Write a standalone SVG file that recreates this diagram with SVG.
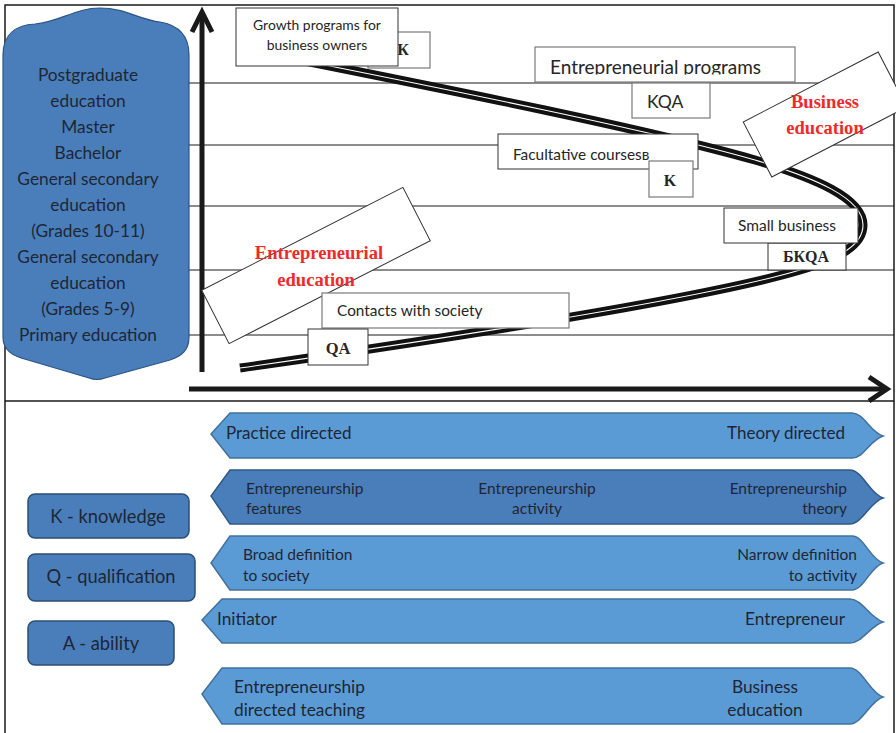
<svg xmlns="http://www.w3.org/2000/svg" width="896" height="733" viewBox="0 0 896 733">
  <style>
    .sans { font-family: Lato, "Open Sans", "Liberation Sans", sans-serif; fill: #262626; }
    .serifb { font-family: "Liberation Serif", "Times New Roman", serif; font-weight: bold; fill: #262626; }
    .red { font-family: "Liberation Serif", "Times New Roman", serif; font-weight: bold; fill: #ee2b2b; font-size: 18.6px; }
    .grid { stroke: #1a1a1a; stroke-width: 1; }
    .box { fill: #ffffff; stroke: #333333; stroke-width: 1; }
    .boxg { fill: #ffffff; stroke: #7a7a7a; stroke-width: 1.2; }
    .axis { stroke: #1a1a1a; stroke-width: 5; fill: none; }
    .bandL { fill: #5b9bd5; stroke: #41719c; stroke-width: 1.5; }
    .bandD { fill: #4a7ebb; stroke: #2f5a86; stroke-width: 1.5; }
    .legend { fill: #4a7ebb; stroke: #2c4f74; stroke-width: 1.5; }
    .lvl { font-family: Lato, "Open Sans", "Liberation Sans", sans-serif; fill: #1e2633; font-size: 17.3px; text-anchor: middle; }
    .bt { font-family: Lato, "Open Sans", "Liberation Sans", sans-serif; fill: #1e2633; }
  </style>
  <defs>
    <clipPath id="progClip">
      <rect x="535" y="47" width="260" height="27.5"/>
    </clipPath>
  </defs>

  <!-- frame -->
  <g id="frame" fill="none" stroke="#1a1a1a" stroke-width="1.5">
    <path d="M5 740 V5 H894 V740"/>
    <line x1="5" y1="401" x2="894" y2="401"/>
  </g>

  <!-- horizontal level lines -->
  <g id="levels" class="grid">
    <line x1="188" y1="83" x2="894" y2="83"/>
    <line x1="188" y1="145" x2="894" y2="145"/>
    <line x1="188" y1="206" x2="894" y2="206"/>
    <line x1="188" y1="270" x2="894" y2="270"/>
    <line x1="188" y1="335" x2="894" y2="335"/>
  </g>

  <!-- education levels -->
  <g id="education-levels">
    <path d="M3 55 C3 35 15 25 35 24 C60 22 75 8 100 8 C125 8 140 20 160 22 C178 25 189 35 189 55 V337 C189 350 182 356 170 360 L105 378 Q97 381 89 378 L28 360 C12 356 3 350 3 337 Z" fill="#4a7ebb" stroke="#2c5582" stroke-width="1.2"/>
    <text class="lvl" x="88" y="81">Postgraduate</text>
    <text class="lvl" x="88" y="107">education</text>
    <text class="lvl" x="88" y="133">Master</text>
    <text class="lvl" x="88" y="159">Bachelor</text>
    <text class="lvl" x="88" y="185">General secondary</text>
    <text class="lvl" x="88" y="211">education</text>
    <text class="lvl" x="88" y="237">(Grades 10-11)</text>
    <text class="lvl" x="88" y="263">General secondary</text>
    <text class="lvl" x="88" y="289">education</text>
    <text class="lvl" x="88" y="315">(Grades 5-9)</text>
    <text class="lvl" x="88" y="341">Primary education</text>
  </g>

  <!-- axes -->
  <g id="axes">
    <line class="axis" x1="202" y1="372" x2="202" y2="13"/>
    <polyline class="axis" points="192,32 202,12 212,32"/>
    <line class="axis" x1="189" y1="389" x2="885" y2="389"/>
    <polyline class="axis" points="869,377 887,389 869,401"/>
  </g>

  <!-- development path -->
  <g id="connectors">
    <path d="M240 368 C400 345 700 300 800 270 C840 258 863 245 863 225 C863 198 815 178 755 160 C650 130 450 90 290 58" fill="none" stroke="#111111" stroke-width="9"/>
    <path d="M240 368 C400 345 700 300 800 270 C840 258 863 245 863 225 C863 198 815 178 755 160 C650 130 450 90 290 58" fill="none" stroke="#ffffff" stroke-width="1.1"/>
  </g>

  <!-- stages on the path -->
  <g id="k-top">
    <rect class="boxg" x="368" y="32" width="62" height="36"/>
    <text class="serifb" x="403" y="55" font-size="16" text-anchor="middle">К</text>
  </g>
  <g id="growth-programs">
    <rect class="box" x="236" y="8" width="162" height="58"/>
    <text class="sans" x="317" y="30" font-size="13.9" text-anchor="middle">Growth programs for</text>
    <text class="sans" x="317" y="50" font-size="13.9" text-anchor="middle">business owners</text>
  </g>
  <g id="entrepreneurial-programs">
    <rect class="boxg" x="535" y="47" width="260" height="35"/>
    <text class="sans" x="550" y="74" font-size="19" clip-path="url(#progClip)">Entrepreneurial programs</text>
  </g>
  <g id="kqa">
    <rect class="boxg" x="632" y="83" width="78" height="35"/>
    <text class="sans" x="647" y="108" font-size="17.5">KQA</text>
  </g>
  <g id="facultative-courses">
    <rect class="box" x="498" y="134" width="200" height="35"/>
    <text class="sans" x="513" y="160" font-size="15.4">Facultative coursesв</text>
  </g>
  <g id="k-mid">
    <rect class="boxg" x="649" y="161" width="44" height="36"/>
    <text class="serifb" x="670" y="186" font-size="16" text-anchor="middle">K</text>
  </g>
  <g id="business-education">
    <rect class="box" x="749" y="83.5" width="152" height="62" transform="rotate(-27.4 825 114.5)"/>
    <text class="red" x="825" y="108" text-anchor="middle">Business</text>
    <text class="red" x="825" y="134" text-anchor="middle">education</text>
  </g>
  <g id="entrepreneurial-education">
    <rect class="box" x="203" y="235.5" width="226" height="60" transform="rotate(-27.1 316 265.5)"/>
    <text class="red" x="319" y="259" text-anchor="middle">Entrepreneurial</text>
    <text class="red" x="316" y="286" text-anchor="middle">education</text>
  </g>
  <g id="contacts-society">
    <rect class="boxg" x="322" y="293" width="247" height="35"/>
    <text class="sans" x="337" y="316" font-size="15.4">Contacts with society</text>
  </g>
  <g id="qa">
    <rect class="box" x="308" y="329" width="60" height="36"/>
    <text class="serifb" x="338" y="354" font-size="16.5" text-anchor="middle">QA</text>
  </g>
  <g id="bkqa">
    <rect class="box" x="768" y="243" width="78" height="27"/>
    <text class="serifb" x="806" y="262" font-size="16" text-anchor="middle">БКQA</text>
  </g>
  <g id="small-business">
    <rect class="box" x="724" y="208" width="134" height="35"/>
    <text class="sans" x="738" y="231" font-size="15.5">Small business</text>
  </g>

  <!-- spectrum bands -->
  <g id="band-orientation">
    <path class="bandL" d="M230 413 H852 C864 413 870 432 883 436 C870 440 864 458 852 458 H230 L211 434 Z"/>
    <text class="bt" x="226" y="439" font-size="17">Practice directed</text>
    <text class="bt" x="845" y="439" font-size="17" text-anchor="end">Theory directed</text>
  </g>
  <g id="band-content">
    <path class="bandD" d="M230 470 H850 C862 470 870 494 883 498 C870 502 862 524 850 524 H230 L211 496 Z"/>
    <text class="bt" x="246" y="494" font-size="15.5">Entrepreneurship</text>
    <text class="bt" x="246" y="514" font-size="15.5">features</text>
    <text class="bt" x="537" y="494" font-size="15.5" text-anchor="middle">Entrepreneurship</text>
    <text class="bt" x="537" y="514" font-size="15.5" text-anchor="middle">activity</text>
    <text class="bt" x="847" y="494" font-size="15.5" text-anchor="end">Entrepreneurship</text>
    <text class="bt" x="847" y="514" font-size="15.5" text-anchor="end">theory</text>
  </g>
  <g id="band-definition">
    <path class="bandL" d="M230 536 H852 C864 536 870 559 883 563 C870 567 864 590 852 590 H230 L211 563 Z"/>
    <text class="bt" x="243" y="560" font-size="15.5">Broad definition</text>
    <text class="bt" x="243" y="581" font-size="15.5">to society</text>
    <text class="bt" x="857" y="560" font-size="15.5" text-anchor="end">Narrow definition</text>
    <text class="bt" x="857" y="581" font-size="15.5" text-anchor="end">to activity</text>
  </g>
  <g id="band-role">
    <path class="bandL" d="M222 599 H850 C862 599 870 618 883 622 C870 626 862 643 850 643 H222 L202 620 Z"/>
    <text class="bt" x="217" y="625" font-size="17.3">Initiator</text>
    <text class="bt" x="845" y="625" font-size="17.3" text-anchor="end">Entrepreneur</text>
  </g>
  <g id="band-teaching">
    <path class="bandL" d="M222 668 H850 C862 668 870 693 883 697 C870 701 862 724 850 724 H222 L202 694 Z"/>
    <text class="bt" x="234" y="693" font-size="17.3">Entrepreneurship</text>
    <text class="bt" x="234" y="716" font-size="17.3">directed teaching</text>
    <text class="bt" x="765" y="693" font-size="17.3" text-anchor="middle">Business</text>
    <text class="bt" x="765" y="716" font-size="17.3" text-anchor="middle">education</text>
  </g>

  <!-- legend -->
  <g id="legend-k">
    <rect class="legend" x="28" y="494" width="161" height="44" rx="7"/>
    <text class="bt" x="108" y="523" font-size="18.3" text-anchor="middle">K - knowledge</text>
  </g>
  <g id="legend-q">
    <rect class="legend" x="28" y="554" width="167" height="47" rx="7"/>
    <text class="bt" x="111" y="583" font-size="18.3" text-anchor="middle">Q - qualification</text>
  </g>
  <g id="legend-a">
    <rect class="legend" x="28" y="621" width="146" height="44" rx="7"/>
    <text class="bt" x="101" y="650" font-size="18.3" text-anchor="middle">A - ability</text>
  </g>
</svg>
